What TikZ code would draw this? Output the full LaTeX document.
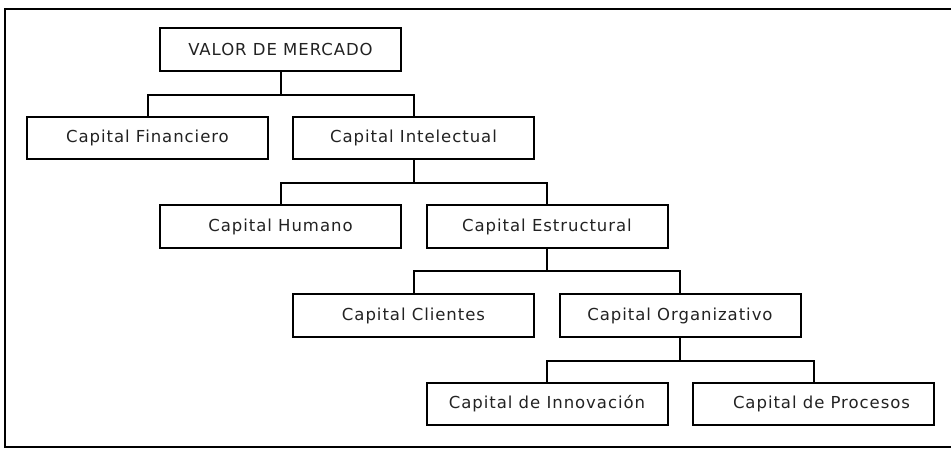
\documentclass[tikz,border=0pt]{standalone}
\usepackage{fontspec}
\setmainfont[LetterSpace=5.8]{DejaVu Sans}
\usetikzlibrary{positioning}
\definecolor{ink}{HTML}{222222}
\begin{document}
\begin{tikzpicture}[x=1pt,y=-1pt,
  box/.style={draw=black, line width=2pt, minimum width=241pt, minimum height=42.5pt,
    inner sep=0pt, text=ink, font=\fontsize{16.5pt}{18pt}\selectfont},
  link/.style={draw=black, line width=2pt},
  frame/.style={draw=black, line width=2.6pt}]
\useasboundingbox (0,0) rectangle (951,448);
% open outer frame (its right side runs past the page)
\draw[frame] (960,9) -- (5,9) -- (5,447) -- (960,447);
% boxes
\node[box] (vm)  at (280.5,49.5)  {VALOR DE MERCADO};
\node[box] (cf)  at (147.5,138)   {Capital Financiero};
\node[box] (ci)  at (413.5,138)   {Capital Intelectual};
\node[box] (ch)  at (280.5,226.5) {Capital Humano};
\node[box] (ce)  at (547,226.5)   {Capital Estructural};
\node[box] (cc)  at (413.5,315.5) {Capital Clientes};
\node[box] (co)  at (680,315.5)   {Capital Organizativo};
\node[box] (cin) at (547,404)     {Capital de Innovación};
\node[box] (cp)  at (813.5,404)   {\hspace*{16pt}Capital de Procesos};
% tree connectors
\draw[link] (vm.south) -- ++(0,23) -| (cf.north);
\draw[link] (vm.south) -- ++(0,23) -| (ci.north);
\draw[link] (ci.south) -- ++(0,23) -| (ch.north);
\draw[link] (ci.south) -- ++(0,23) -| (ce.north);
\draw[link] (ce.south) -- ++(0,22.5) -| (cc.north);
\draw[link] (ce.south) -- ++(0,22.5) -| (co.north);
\draw[link] (co.south) -- ++(0,23) -| (cin.north);
\draw[link] (co.south) -- ++(0,23) -| (cp.north);
\end{tikzpicture}
\end{document}
